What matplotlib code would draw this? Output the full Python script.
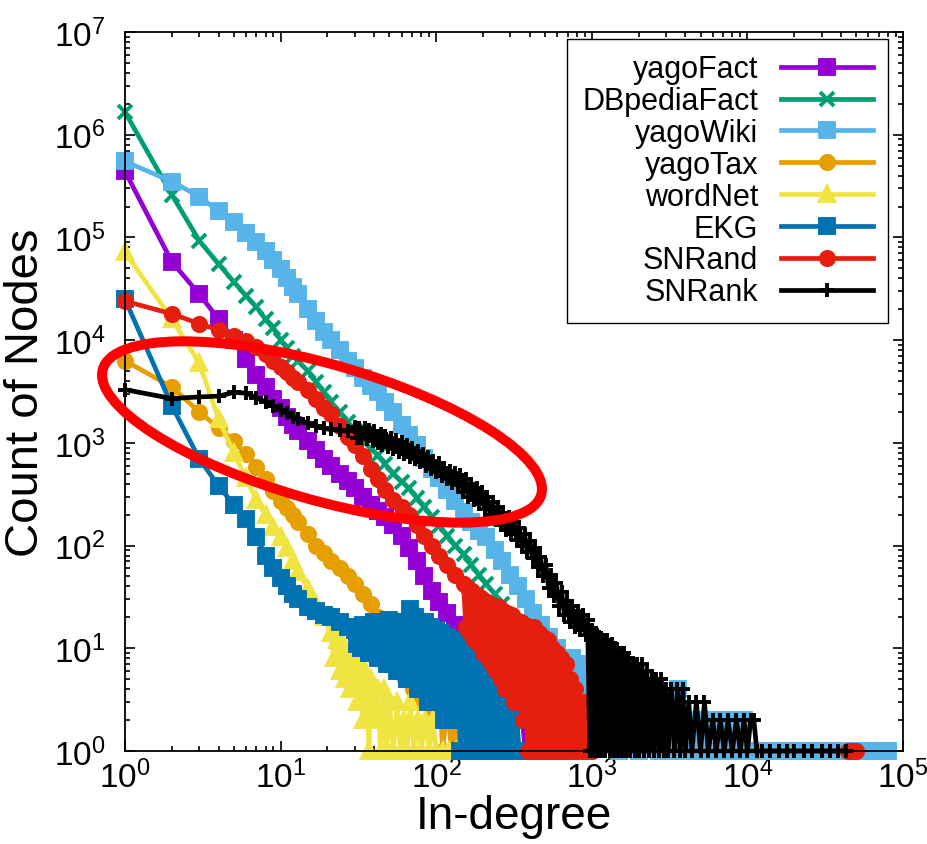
import numpy as np
import matplotlib
matplotlib.use("Agg")
import matplotlib.pyplot as plt
from matplotlib.patches import Ellipse
from matplotlib.ticker import LogLocator, NullFormatter

plt.rcParams['font.family'] = ['Liberation Sans', 'DejaVu Sans']
plt.rcParams['mathtext.default'] = 'regular'

# degree distributions: (in-degree, count of nodes)
yagofact_deg = [1, 2, 3, 4, 5, 6, 7, 8, 9, 10, 11, 12, 13, 15, 17, 19, 21, 24, 27, 30, 34, 38, 42, 47, 53, 60,
                67, 75, 84, 94, 105, 118, 133, 150, 168, 188, 210, 237, 266, 300, 335, 375, 420, 470, 530, 600]
yagofact_cnt = [440000, 58000, 28000, 16000, 10000, 6500, 4600, 3500, 2700, 2200, 1800, 1500, 1300, 1050, 850,
                700, 600, 500, 430, 360, 300, 250, 215, 190, 160, 125, 95, 70, 50, 36, 28, 22, 17, 12, 9, 5, 8, 3,
                6, 2, 5, 1, 3, 1, 2, 1]

dbpedia_deg = [1, 2, 3, 4, 5, 6, 7, 8, 9, 10, 11, 12, 13, 15, 17, 19, 21, 24, 27, 30, 34, 38, 42, 47, 53, 60,
               67, 75, 84, 94, 105, 118, 133, 150, 168, 188, 210, 237, 266, 300, 335, 375, 420, 470, 530, 600,
               670, 750, 840, 940]
dbpedia_cnt = [1660000, 260000, 93000, 55000, 37000, 27000, 21000, 16000, 13000, 10000, 8400, 7000, 6200, 5000,
               3900, 3100, 2500, 2000, 1600, 1300, 1050, 880, 760, 620, 500, 420, 360, 290, 240, 190, 155, 125,
               100, 82, 65, 52, 42, 34, 27, 20, 15, 11, 8, 4, 7, 2, 5, 1, 3, 1]

yagowiki_deg = [1, 2, 3, 4, 5, 6, 7, 8, 9, 10, 11, 12, 13, 15, 17, 19, 21, 24, 27, 30, 34, 38, 42, 47, 53, 60,
                67, 75, 84, 94, 105, 118, 133, 150, 168, 188, 210, 237, 266, 300, 335, 375, 420, 470, 530, 600,
                670, 700, 750, 800, 840, 900, 940, 1000, 1060, 1120, 1200, 1300, 1400, 1500, 1600, 1700, 1800,
                2000, 2100, 2300, 2500, 2700, 2900, 3200, 3400, 3600, 3800, 4200, 4600, 5000, 5500, 6000, 6500,
                7000, 7500, 8000, 9000, 9500, 10000, 12000, 14000, 17000, 20000, 24000, 28000, 33000, 40000,
                47000, 55000, 65000, 80000]
yagowiki_cnt = [550000, 350000, 250000, 180000, 140000, 110000, 91000, 74000, 60000, 49000, 40000, 33000, 28000,
                20000, 15500, 12000, 10000, 8000, 6300, 5300, 4300, 3600, 3100, 2500, 2000, 1500, 1200, 950, 720,
                560, 450, 350, 270, 210, 170, 140, 120, 90, 70, 52, 40, 30, 22, 17, 13, 10, 8, 5, 8, 4, 7, 3, 6,
                3, 6, 2, 5, 2, 4, 1, 4, 2, 4, 1, 5, 2, 4, 1, 3, 1, 3, 4, 1, 2, 1, 2, 1, 2, 1, 2, 1, 2, 1, 2, 1, 1,
                1, 1, 1, 1, 1, 1, 1, 1, 1, 1, 1]

yagotax_deg = [1, 2, 3, 4, 5, 6, 7, 8, 9, 10, 11, 12, 13, 15, 17, 19, 21, 24, 27, 30, 34, 38, 42, 47, 50, 53,
               56, 60, 63, 67, 71, 75, 80, 84, 89, 94, 100, 105, 110, 118, 125, 133, 140, 150, 160]
yagotax_cnt = [6300, 3500, 2000, 1400, 1050, 780, 580, 440, 340, 270, 230, 200, 170, 130, 100, 85, 70, 60, 50, 42,
               34, 27, 20, 14, 10, 13, 7, 11, 5, 9, 4, 7, 3, 6, 2, 5, 2, 4, 1, 3, 1, 2, 1, 2, 1]

wordnet_deg = [1, 2, 3, 4, 5, 6, 7, 8, 9, 10, 11, 12, 13, 15, 17, 19, 21, 22, 23, 24, 25, 26, 27, 28, 29, 31,
               32, 34, 35, 37, 38, 40, 42, 44, 46, 48, 50, 53, 56, 59, 62, 65, 68, 72, 76, 80, 85, 90, 95, 100,
               110, 120, 137]
wordnet_cnt = [72000, 16000, 6000, 1700, 800, 450, 280, 200, 150, 120, 95, 70, 55, 38, 27, 20, 14, 8, 12, 6, 11, 5,
               9, 4, 8, 3, 7, 2, 6, 1, 5, 2, 4, 1, 4, 1, 3, 1, 3, 1, 2, 1, 3, 1, 2, 1, 2, 1, 2, 1, 1, 1, 1]

ekg_deg = [1, 2, 3, 4, 5, 6, 7, 8, 9, 10, 11, 12, 13, 15, 17, 19, 21, 24, 27, 30, 31, 32, 33, 34, 35, 36, 37,
           38, 39, 40, 42, 43, 45, 46, 48, 50, 52, 54, 56, 58, 60, 63, 65, 68, 70, 73, 76, 79, 82, 85, 89, 92,
           96, 100, 104, 108, 112, 117, 122, 127, 132, 137, 143, 149, 155, 161, 168, 175, 182, 189, 197, 205,
           213, 222, 231, 240, 250, 260, 270, 281, 292, 304, 316, 329, 342, 356]
ekg_cnt = [25000, 2300, 700, 380, 250, 180, 120, 80, 60, 48, 40, 34, 30, 25, 23, 21, 20, 18, 16, 15, 11, 16, 10,
           17, 10, 16, 9, 17, 9, 18, 8, 17, 8, 18, 7, 19, 7, 17, 6, 18, 6, 17, 5, 24, 5, 20, 4, 16, 4, 18, 3,
           16, 3, 15, 3, 14, 2, 13, 2, 12, 2, 11, 1, 10, 1, 9, 1, 8, 1, 7, 1, 6, 1, 5, 1, 4, 1, 4, 1, 3, 1, 3,
           1, 2, 1, 1]

snrand_deg = [1, 2, 3, 4, 5, 6, 7, 8, 9, 10, 11, 12, 13, 15, 17, 19, 21, 24, 27, 30, 34, 38, 42, 47, 53, 60, 67,
              75, 84, 94, 105, 118, 133, 150, 155, 160, 165, 170, 176, 182, 188, 194, 200, 207, 214, 221, 228,
              236, 244, 252, 260, 269, 278, 287, 297, 307, 317, 328, 339, 350, 362, 374, 387, 400, 414, 428,
              442, 457, 472, 488, 505, 522, 540, 558, 577, 596, 616, 637, 659, 681, 704, 728, 752, 778, 804,
              831, 859, 888, 918, 949, 981, 1000, 44000, 47000, 50000]
snrand_cnt = [24000, 18000, 14500, 12500, 11000, 9800, 8500, 7300, 6300, 5500, 4900, 4300, 3900, 3300, 2700, 2200,
              1900, 1450, 1150, 950, 750, 560, 440, 350, 280, 240, 200, 160, 125, 100, 80, 65, 52, 42, 16, 39, 14,
              36, 12, 33, 11, 31, 9, 29, 8, 27, 7, 26, 6, 25, 5, 23, 4, 22, 4, 21, 3, 19, 3, 18, 2, 17, 1, 16, 1,
              16, 1, 14, 1, 13, 1, 12, 1, 10, 1, 9, 1, 8, 1, 7, 1, 5, 1, 4, 1, 3, 1, 3, 1, 2, 1, 1, 1, 1, 1]

snrank_deg = [1, 2, 3, 4, 5, 6, 7, 8, 9, 10, 11, 12, 13, 15, 17, 19, 21, 24, 27,
              30, 31, 32, 33, 35, 36, 37, 39, 40, 42, 44, 45, 47, 49, 51, 53, 55, 58, 60, 62,
              65, 68, 70, 73, 76, 79, 82, 86, 89, 93, 96, 100, 104, 109, 113, 118, 122, 127, 132, 138,
              143, 149, 155, 161, 168, 175, 182, 189, 197, 205, 213, 222, 231, 240, 250, 260, 270, 281, 292, 304,
              316, 329, 342, 356, 370, 385, 400, 416, 433, 450, 468, 487, 507, 527, 548, 570, 593, 617, 641, 667,
              694, 721, 750, 780, 811, 844, 877, 912, 940,
              970, 1000, 1030, 1060, 1090, 1120, 1150, 1190, 1220, 1260, 1300, 1340, 1380, 1420, 1470, 1510,
              1560, 1610, 1660, 1710, 1770, 1830, 1890, 1950, 2020, 2100, 2170, 2250, 2330, 2420, 2500, 2600,
              2700, 2800, 2900, 3000, 3100, 3250, 3400, 3550, 3700, 3850, 4000, 4200, 4400, 4700, 5000, 5300,
              5600, 6000, 6300, 6700, 7100, 7500, 8000, 8500, 9000, 9500, 10000, 10500, 11000, 11500, 12500,
              14000, 16000, 18000, 20000, 23000, 26000, 30000, 34000, 38000, 43000]
snrank_cnt = [3300, 2700, 2800, 2850, 3100, 3050, 2750, 2500, 2300, 2100, 1950, 1800, 1700, 1550, 1450, 1380,
              1350, 1320, 1300,
              1420, 1125, 1400, 1110, 1385, 1090, 1345, 1045, 1290, 1000, 1220, 960, 1175, 915, 1120, 875, 1070,
              820, 1010, 785, 945, 730, 895, 690, 835, 645, 780, 600, 730, 555, 670, 520, 630, 480, 575, 440,
              530, 410, 505, 385, 485, 330, 445, 300, 400, 275, 365, 255, 335, 225, 300, 200, 265, 180, 235, 158,
              208, 142, 190, 129, 170, 114, 148, 99, 130, 86, 112, 75, 95, 62, 78, 50, 65, 39, 52, 32, 43, 26, 35,
              21, 29, 18, 26, 16, 23, 15, 21, 13.5, 19,
              1, 15, 1, 14, 1, 13, 1, 12, 1, 12, 1, 11, 1, 10, 1, 9, 1, 9, 1, 8, 1, 7, 1, 7, 1, 7, 1, 6, 1, 5, 1,
              5, 1, 5, 1, 4, 1, 4, 1, 4, 1, 4, 1, 3, 1, 3, 1, 3, 1, 2, 1, 2, 1, 2, 1, 2, 1, 2, 1, 2, 2, 1, 1, 1,
              1, 1, 1, 1, 1, 1, 1, 1, 1]

labels = ['yagoFact', 'DBpediaFact', 'yagoWiki', 'yagoTax', 'wordNet', 'EKG', 'SNRand', 'SNRank']
degrees = [yagofact_deg, dbpedia_deg, yagowiki_deg, yagotax_deg, wordnet_deg, ekg_deg, snrand_deg, snrank_deg]
counts = [yagofact_cnt, dbpedia_cnt, yagowiki_cnt, yagotax_cnt, wordnet_cnt, ekg_cnt, snrand_cnt, snrank_cnt]

colors = ['#9400d3', '#009e73', '#56b4e9', '#e69f00', '#f0e442', '#0072b2', '#e51e10', '#000000']
markers = ['s', 'x', 's', 'o', '^', 's', 'o', '+']

xticks = [1, 10, 100, 1000, 10000, 100000]
yticks = [1, 10, 100, 1000, 10000, 100000, 1000000, 10000000]

fig = plt.figure(figsize=(9.27, 8.45), dpi=100)
ax = fig.add_axes([125 / 927, 93 / 845, 778 / 927, 719 / 845])

for d, c, lab, col, m in zip(degrees, counts, labels, colors, markers):
    ax.plot(d, c, color=col, lw=3.4, marker=m, ms=9.5, mew=2.8, label=lab, clip_on=False)

ax.set_xscale('log')
ax.set_yscale('log')
ax.set_xlim(1, 1e5)
ax.set_ylim(1, 1e7)

# only the decades inside the frame get labels
ax.set_xticks(xticks)
ax.set_yticks(yticks)
ax.xaxis.set_minor_locator(LogLocator(base=10, subs=np.arange(2, 10), numticks=20))
ax.yaxis.set_minor_locator(LogLocator(base=10, subs=np.arange(2, 10), numticks=20))
ax.xaxis.set_minor_formatter(NullFormatter())
ax.yaxis.set_minor_formatter(NullFormatter())

ax.tick_params(which='both', direction='in', top=True, right=True, width=1.2)
ax.tick_params(which='major', length=7)
ax.tick_params(which='minor', length=3.5)
ax.tick_params(axis='x', labelsize=24, pad=6)
ax.tick_params(axis='y', labelsize=24, pad=14)
for sp in ax.spines.values():
    sp.set_linewidth(1.3)

ax.set_xlabel('In-degree', fontsize=33, labelpad=0)
ax.set_ylabel('Count of Nodes', fontsize=34, labelpad=4)

leg = ax.legend(loc='upper right', bbox_to_anchor=(0.981, 0.990), borderaxespad=0, fontsize=22,
                markerfirst=False, numpoints=1, handlelength=3.0, handletextpad=0.75,
                labelspacing=0.06, borderpad=0.5, fancybox=False, framealpha=1)
leg.get_frame().set_edgecolor('black')
leg.get_frame().set_linewidth(1.0)

# red highlight ellipse, placed in figure inches
ell = Ellipse((3.22, 8.45 - 4.33), width=4.56, height=1.36, angle=-16,
              transform=fig.dpi_scale_trans, fill=False, edgecolor='#ff0000', lw=7.2, zorder=10)
fig.add_artist(ell)

fig.savefig('out.png', dpi=100)
